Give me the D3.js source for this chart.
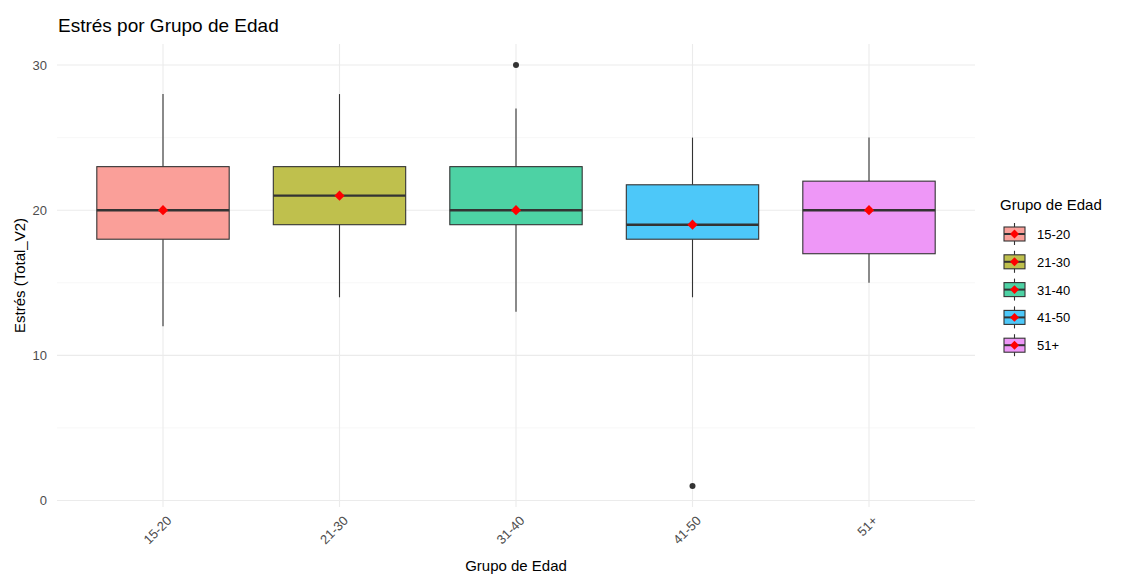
<!DOCTYPE html>
<html><head><meta charset="utf-8">
<script src="https://cdn.jsdelivr.net/npm/d3@7"></script>
<style>body{margin:0;background:#fff}text{font-family:"Liberation Sans",Arial,sans-serif}</style>
</head><body><svg id="c" width="1131" height="576"></svg>
<script>
const categories = ["15-20","21-30","31-40","41-50","51+"];
const whiskerLow = [12,14,13,14,15];
const q1 = [18,19,19,18,17];
const medians = [20,21,20,19,20];
const q3 = [23,23,23,21.75,22];
const whiskerHigh = [28,28,27,25,25];
const means = [20,21,20,19,20];
const outliers = [[],[],[30],[1],[]];
const colors = ["#F8766D","#A3A500","#00BF7D","#00B0F6","#E76BF3"];
const yTicks = [0,10,20,30];
const yMinor = [5,15,25];

const svg = d3.select("#c");
const panel = {l:57, r:975, t:44, b:507};
const x = d3.scalePoint().domain(categories).range([163,869]);
const y = d3.scaleLinear().domain([-0.45,31.45]).range([panel.b,panel.t]);
const step = x.step();
const bw = step*0.75;

// grid
const g = svg.append("g");
g.selectAll(".mn").data(yMinor).join("line").attr("x1",panel.l).attr("x2",panel.r)
 .attr("y1",d=>y(d)).attr("y2",d=>y(d)).attr("stroke","#F2F2F2").attr("stroke-width",0.6);
g.selectAll(".mj").data(yTicks).join("line").attr("x1",panel.l).attr("x2",panel.r)
 .attr("y1",d=>y(d)).attr("y2",d=>y(d)).attr("stroke","#EBEBEB").attr("stroke-width",1.1);
g.selectAll(".vx").data(categories).join("line").attr("y1",panel.t).attr("y2",panel.b)
 .attr("x1",d=>x(d)).attr("x2",d=>x(d)).attr("stroke","#EBEBEB").attr("stroke-width",1.1);

// y axis labels
svg.selectAll(".yt").data(yTicks).join("text").attr("x",47).attr("y",d=>y(d)+4.5)
 .attr("text-anchor","end").attr("font-size",13).attr("fill","#4D4D4D").text(d=>d);
// x axis labels
svg.selectAll(".xt").data(categories).join("text")
 .attr("transform",d=>`translate(${x(d)+3},${panel.b+8}) rotate(-45)`)
 .attr("text-anchor","end").attr("dy","0.7em").attr("font-size",13).attr("fill","#4D4D4D").text(d=>d);

// boxes
const boxes = svg.append("g");
categories.forEach((c,i)=>{
  const cx = x(c);
  const fill = d3.interpolateRgb("#ffffff",colors[i])(0.7);
  boxes.append("line").attr("x1",cx).attr("x2",cx).attr("y1",y(whiskerHigh[i])).attr("y2",y(q3[i]))
   .attr("stroke","#333333").attr("stroke-width",1.1);
  boxes.append("line").attr("x1",cx).attr("x2",cx).attr("y1",y(q1[i])).attr("y2",y(whiskerLow[i]))
   .attr("stroke","#333333").attr("stroke-width",1.1);
  boxes.append("rect").attr("x",cx-bw/2).attr("width",bw).attr("y",y(q3[i])).attr("height",y(q1[i])-y(q3[i]))
   .attr("fill",fill).attr("stroke","#333333").attr("stroke-width",1.1);
  boxes.append("line").attr("x1",cx-bw/2).attr("x2",cx+bw/2).attr("y1",y(medians[i])).attr("y2",y(medians[i]))
   .attr("stroke","#333333").attr("stroke-width",2.4);
  outliers[i].forEach(o=>{
    boxes.append("circle").attr("cx",cx).attr("cy",y(o)).attr("r",3).attr("fill","#333333");
  });
  boxes.append("path").attr("d",d3.symbol(d3.symbolSquare,52)())
   .attr("transform",`translate(${cx},${y(means[i])}) rotate(45)`).attr("fill","#FF0000");
});

// title and axis titles
svg.append("text").attr("x",58).attr("y",32).attr("font-size",19).attr("fill","#000").text("Estrés por Grupo de Edad");
svg.append("text").attr("x",(panel.l+panel.r)/2).attr("y",571).attr("text-anchor","middle").attr("font-size",15).attr("fill","#000").text("Grupo de Edad");
svg.append("text").attr("transform",`translate(25,${(panel.t+panel.b)/2}) rotate(-90)`).attr("text-anchor","middle").attr("font-size",15).attr("fill","#000").text("Estrés (Total_V2)");

// legend
const lg = svg.append("g");
lg.append("text").attr("x",1000).attr("y",210).attr("font-size",15).attr("fill","#000").text("Grupo de Edad");
categories.forEach((c,i)=>{
  const cy = 234 + i*27.8;
  const fill = d3.interpolateRgb("#ffffff",colors[i])(0.7);
  lg.append("line").attr("x1",1014.5).attr("x2",1014.5).attr("y1",cy-11).attr("y2",cy+11).attr("stroke","#333333").attr("stroke-width",1.1);
  lg.append("rect").attr("x",1004).attr("y",cy-7).attr("width",21).attr("height",14).attr("fill",fill).attr("stroke","#333333").attr("stroke-width",1.1);
  lg.append("line").attr("x1",1004).attr("x2",1025).attr("y1",cy).attr("y2",cy).attr("stroke","#333333").attr("stroke-width",2);
  lg.append("path").attr("d",d3.symbol(d3.symbolSquare,40)()).attr("transform",`translate(1014.5,${cy}) rotate(45)`).attr("fill","#FF0000");
  lg.append("text").attr("x",1037).attr("y",cy+5).attr("font-size",13).attr("fill","#000").text(c);
});
</script></body></html>
